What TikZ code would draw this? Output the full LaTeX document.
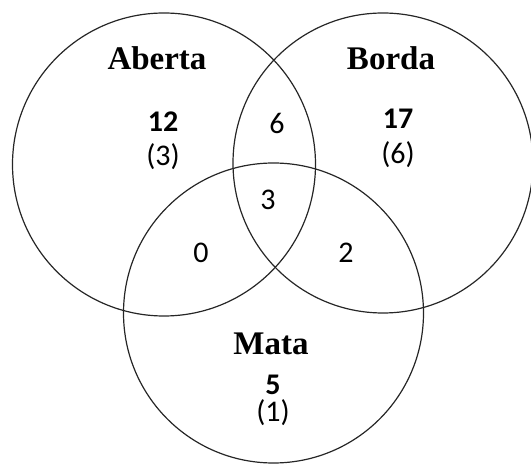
\documentclass[tikz,border=0pt]{standalone}
\usepackage{fontspec}
\setmainfont{Liberation Serif}
\newfontfamily\numfont{Carlito}
\begin{document}
\begin{tikzpicture}[x=1pt,y=-1pt,
  setcircle/.style={draw=black!85,line width=1.2pt},
  title/.style={font=\fontsize{33}{36}\selectfont\bfseries,inner sep=0pt},
  cnt/.style={font=\numfont\fontsize{30}{32}\selectfont\bfseries,inner sep=0pt},
  sub/.style={font=\numfont\fontsize{30}{32}\selectfont,inner sep=0pt}]
\useasboundingbox (0,0) rectangle (531,465);
\node[setcircle,circle,minimum size=303pt,inner sep=0pt] (A) at (164,164.5) {};
\node[setcircle,circle,minimum size=300pt,inner sep=0pt] (B) at (383,163) {};
\node[setcircle,circle,minimum size=300pt,inner sep=0pt] (M) at (273.5,313) {};
\node[title] (ta) at (157,58) {Aberta};
\node[title] (tb) at (391,58) {Borda};
\node[title] (tm) at (271,344) {Mata};
\node[cnt] (na) at (163,122) {12};
\node[sub] (sa) at (163,157) {(3)};
\node[cnt] (nb) at (398,119) {17};
\node[sub] (sb) at (398,155) {(6)};
\node[cnt] (nm) at (273,385) {5};
\node[sub] (sm) at (273,413) {(1)};
\node[sub] (ab) at (277,123) {6};
\node[sub] (abm) at (268,200) {3};
\node[sub] (am) at (201,253) {0};
\node[sub] (bm) at (346,253) {2};
\end{tikzpicture}
\end{document}
